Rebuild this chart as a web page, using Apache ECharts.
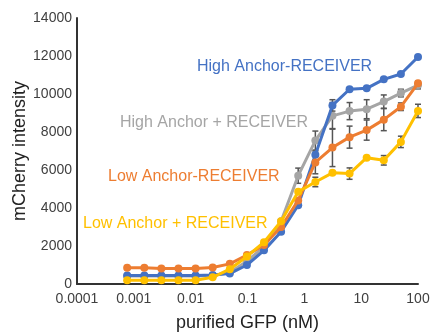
<!DOCTYPE html>
<html>
<head>
<meta charset="utf-8">
<script src="https://cdn.jsdelivr.net/npm/echarts@6/dist/echarts.min.js"></script>
<style>
    html, body { margin: 0; padding: 0; background: #fff; }
    #main { width: 435px; height: 333px; }
</style>
</head>
<body>
<div id="main"></div>
<script>
// GFP concentrations (nM), two-fold dilutions
const conc = [0.000763, 0.00153, 0.00305, 0.0061, 0.0122, 0.0244, 0.0488, 0.0977, 0.195,
    0.39, 0.78, 1.5625, 3.125, 6.25, 12.5, 25, 50, 100];

const xTicks = ['0.0001', '0.001', '0.01', '0.1', '1', '10', '100'];
const yTicks = [0, 2000, 4000, 6000, 8000, 10000, 12000, 14000];

const seriesNames = ['High Anchor-RECEIVER', 'High Anchor + RECEIVER', 'Low Anchor-RECEIVER', 'Low Anchor + RECEIVER'];

const highAnchorR = [450, 450, 450, 450, 450, 470, 550, 1000, 1770, 2750, 4150, 6800, 9400, 10250, 10300, 10770, 11050, 11950];
const highAnchorPlus = [420, 420, 420, 420, 420, 450, 600, 1200, 1950, 3300, 5700, 7550, 8850, 9100, 9200, 9600, 10050, 10470];
const lowAnchorR = [850, 850, 820, 820, 820, 870, 1060, 1520, 2050, 3000, 4400, 6400, 7180, 7730, 8100, 8650, 9330, 10560];
const lowAnchorPlus = [200, 200, 200, 200, 200, 350, 780, 1450, 2200, 3300, 4850, 5370, 5850, 5810, 6650, 6510, 7480, 9110];

// error bar half-widths
const errHighR = [0, 0, 0, 0, 0, 0, 0, 0, 0, 0, 0, 0, 300, 0, 0, 0, 0, 0];
const errHighPlus = [0, 0, 0, 0, 0, 0, 0, 0, 0, 0, 400, 500, 700, 450, 500, 350, 200, 200];
const errLowR = [0, 0, 0, 0, 0, 0, 0, 0, 0, 0, 0, 600, 1000, 580, 530, 580, 200, 0];
const errLowPlus = [0, 0, 0, 0, 0, 0, 0, 0, 0, 0, 0, 250, 0, 300, 0, 250, 300, 350];

const colors = ['#4472C4', '#A5A5A5', '#ED7D31', '#FFC000'];
const allValues = [highAnchorR, highAnchorPlus, lowAnchorR, lowAnchorPlus];
const allErrors = [errHighR, errHighPlus, errLowR, errLowPlus];
const zOrder = [4, 3, 5, 6]; // gray sits underneath the others

const font = '"Liberation Sans", Arial, sans-serif';

const mychart = echarts.init(document.getElementById('main'));

const lineSeries = allValues.map((vals, k) => ({
    name: seriesNames[k],
    type: 'line',
    data: vals.map((v, i) => [conc[i], v]),
    symbol: 'circle',
    symbolSize: 8,
    lineStyle: { width: 3, color: colors[k] },
    itemStyle: { color: colors[k] },
    z: zOrder[k],
    animation: false
}));

// error bars drawn as a custom series
const errData = [];
allValues.forEach((vals, k) => {
    vals.forEach((v, i) => {
        if (allErrors[k][i] > 0) {
            errData.push([conc[i], v - allErrors[k][i], v + allErrors[k][i]]);
        }
    });
});

const errSeries = {
    type: 'custom',
    data: errData,
    z: 2,
    renderItem: (params, api) => {
        const lo = api.coord([api.value(0), api.value(1)]);
        const hi = api.coord([api.value(0), api.value(2)]);
        const cap = 3;
        const style = { stroke: '#555', lineWidth: 1.5 };
        return {
            type: 'group',
            children: [
                { type: 'line', shape: { x1: lo[0], y1: lo[1], x2: hi[0], y2: hi[1] }, style },
                { type: 'line', shape: { x1: lo[0] - cap, y1: lo[1], x2: lo[0] + cap, y2: lo[1] }, style },
                { type: 'line', shape: { x1: hi[0] - cap, y1: hi[1], x2: hi[0] + cap, y2: hi[1] }, style }
            ]
        };
    },
    animation: false
};

// in-plot series labels
const labelPos = [[197, 68], [120, 124], [108, 178], [83, 225]];
const labels = seriesNames.map((name, k) => ({
    type: 'text',
    left: labelPos[k][0],
    top: labelPos[k][1] - 9,
    style: { text: name, fill: colors[k], font: '16px ' + font }
}));

mychart.setOption({
    animation: false,
    grid: { left: 77, right: 17, top: 18, bottom: 49, containLabel: false, outerBoundsMode: 'none' },
    xAxis: {
        type: 'log',
        logBase: 10,
        min: 0.0001,
        max: 100,
        name: 'purified GFP (nM)',
        nameLocation: 'middle',
        nameGap: 30,
        nameMoveOverlap: false,
        nameTextStyle: { color: '#222', fontSize: 18, fontFamily: font },
        axisLine: { lineStyle: { color: '#333', width: 2 } },
        axisTick: { show: false },
        splitLine: { show: false },
        axisLabel: {
            color: '#404040',
            fontSize: 14,
            fontFamily: font,
            margin: 8,
            formatter: v => xTicks[Math.round(Math.log10(v)) + 4]
        }
    },
    yAxis: {
        type: 'value',
        min: 0,
        max: 14000,
        interval: 2000,
        name: 'mCherry intensity',
        nameLocation: 'middle',
        nameGap: 48,
        nameMoveOverlap: false,
        nameTextStyle: { color: '#222', fontSize: 18, fontFamily: font },
        axisLine: { show: true, lineStyle: { color: '#333', width: 2 } },
        axisTick: { show: false },
        splitLine: { show: false },
        axisLabel: {
            color: '#404040',
            fontSize: 14,
            fontFamily: font,
            margin: 5,
            formatter: v => String(yTicks[Math.round(v / 2000)])
        }
    },
    graphic: labels,
    series: [errSeries].concat(lineSeries)
});

window.addEventListener('resize', () => {
    if (mychart) {
        mychart.resize();
    }
});
</script>
</body>
</html>
